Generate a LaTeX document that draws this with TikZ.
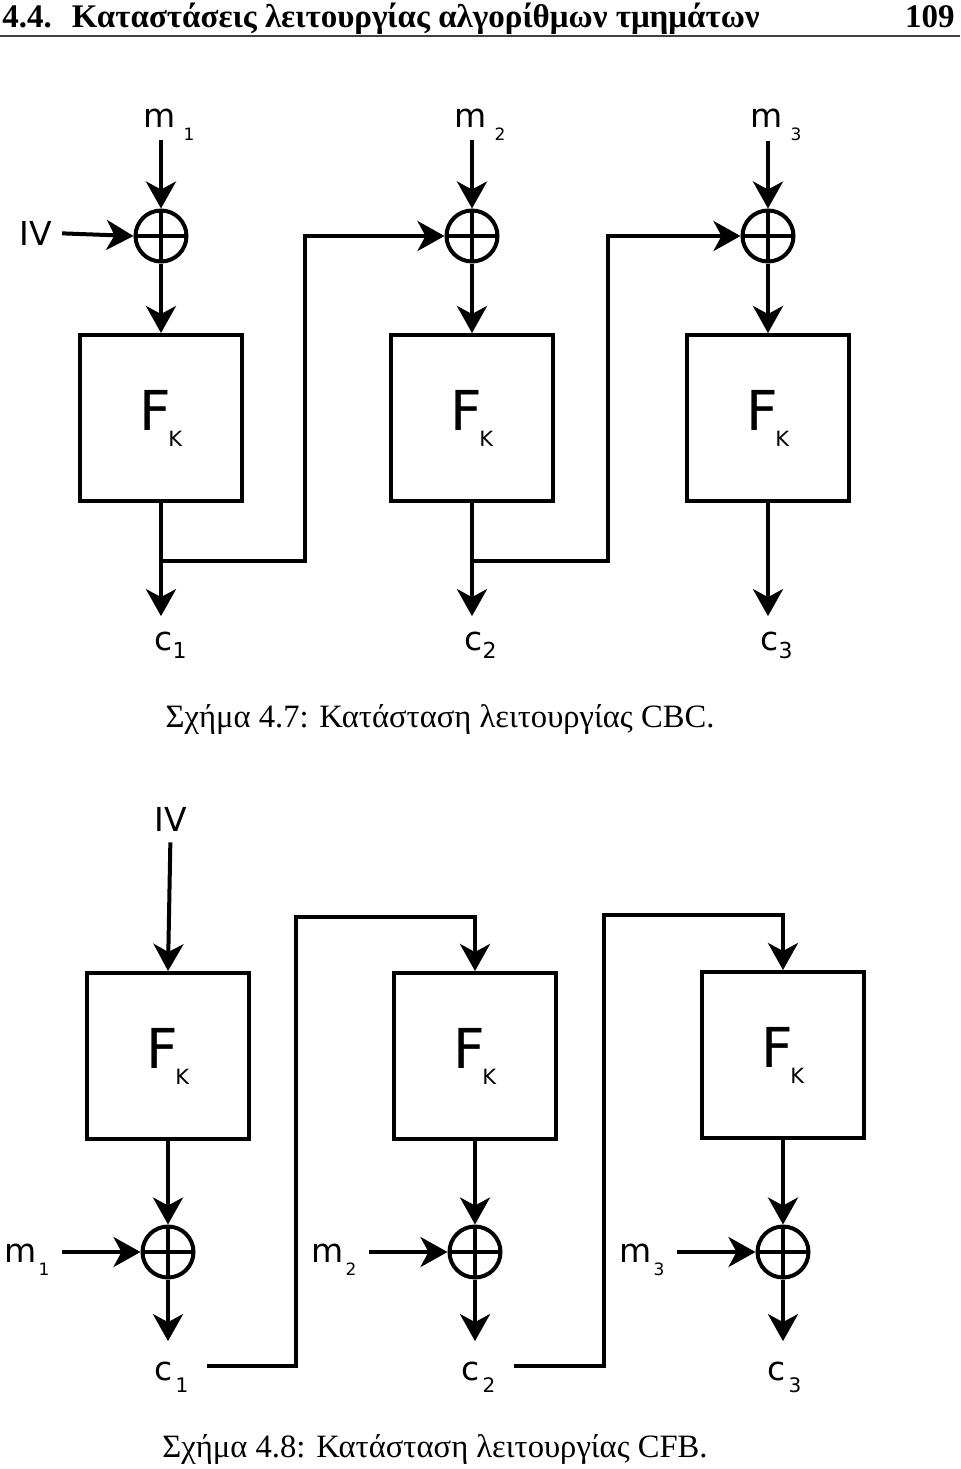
\documentclass[tikz,border=0pt]{standalone}
\usepackage{fontspec}
\setmainfont{Liberation Serif}
\setsansfont{DejaVu Sans}
\newfontfamily\headfont{Liberation Serif}
\usetikzlibrary{arrows.meta}
\tikzstyle{every node}=[inner sep=0pt]
\tikzstyle{arr}=[-{Stealth[length=13.5pt,width=15pt,inset=4pt]},line width=2pt]
\tikzstyle{fbox}=[draw,line width=2pt,minimum width=81pt,minimum height=83pt]
\tikzstyle{xor}=[draw,circle,line width=2pt,minimum size=25.5pt,path picture={\draw[line width=2pt] (path picture bounding box.north)--(path picture bounding box.south) (path picture bounding box.west)--(path picture bounding box.east);}]
\tikzstyle{lbl}=[font=\sffamily\fontsize{16.5}{18}\selectfont,anchor=base west]
\tikzstyle{figcap}=[font=\fontsize{16.3}{18}\selectfont,anchor=base]
\newcommand{\sublbl}[5]{#1\hspace{#3}\raisebox{-#4}{\fontsize{#5}{#5}\selectfont #2}}
\newcommand{\fk}{{\fontsize{27.5}{28}\selectfont F}\hspace{-1.5pt}\raisebox{-8pt}{\fontsize{10.5}{11}\selectfont K}}

\begin{document}
\begin{tikzpicture}[x=0.5pt,y=-0.5pt]
  \useasboundingbox (0,0) rectangle (960,1469);
  % page head
  \node(head)[anchor=base west] at (2,27){\headfont\bfseries\fontsize{16.5}{18}\selectfont 4.4.\hspace{10pt}Καταστάσεις λειτουργίας αλγορίθμων τμημάτων};
  \node(page)[anchor=base east] at (955,27){\headfont\bfseries\fontsize{16.5}{18}\selectfont 109};
  \draw[line width=0.8pt,black!75] (0,36) -- (960,36);

  % CBC
  \node(x1)[xor] at (161,236){};
  \node(x2)[xor] at (472,236){};
  \node(x3)[xor] at (768,236){};
  \node(b1)[fbox,font=\sffamily] at (161,418){\fk};
  \node(b2)[fbox,font=\sffamily] at (472,418){\fk};
  \node(b3)[fbox,font=\sffamily] at (768,418){\fk};
  \node(m1)[lbl] at (143,127){\sublbl{m}{1}{4pt}{6.5pt}{8.5pt}};
  \node(m2)[lbl] at (454,127){\sublbl{m}{2}{4pt}{6.5pt}{8.5pt}};
  \node(m3)[lbl] at (750,127){\sublbl{m}{3}{4pt}{6.5pt}{8.5pt}};
  \node(iv)[lbl] at (19,245){IV};
  \node(c1)[lbl] at (154,650){\sublbl{c}{1}{0pt}{4pt}{11pt}};
  \node(c2)[lbl] at (464,650){\sublbl{c}{2}{0pt}{4pt}{11pt}};
  \node(c3)[lbl] at (760,650){\sublbl{c}{3}{0pt}{4pt}{11pt}};
  \path (b1.south) ++(0,58) coordinate (tap1);
  \path (b2.south) ++(0,58) coordinate (tap2);
  \path[arr] (m1.south -| x1.north) edge (x1.north)
             (m2.south -| x2.north) edge (x2.north)
             (m3.south -| x3.north) edge (x3.north)
             (iv.east) edge[shorten <=5pt] (x1.west)
             (x1.south) edge (b1.north)
             (x2.south) edge (b2.north)
             (x3.south) edge (b3.north)
             (b1.south) edge[shorten >=7.5pt] (c1.north -| b1.south)
             (b2.south) edge[shorten >=7.5pt] (c2.north -| b2.south)
             (b3.south) edge[shorten >=7.5pt] (c3.north -| b3.south);
  \draw[arr] (tap1) -| (305,236) -- (x2.west);
  \draw[arr] (tap2) -| (608,236) -- (x3.west);
  \node(cap1)[figcap] at (440,727){Σχήμα 4.7: Κατάσταση λειτουργίας CBC.};

  % CFB
  \node(B1)[fbox,font=\sffamily] at (168,1056){\fk};
  \node(B2)[fbox,font=\sffamily] at (475,1056){\fk};
  \node(B3)[fbox,font=\sffamily] at (783,1055){\fk};
  \node(y1)[xor] at (168,1252){};
  \node(y2)[xor] at (475,1252){};
  \node(y3)[xor] at (783,1252){};
  \node(IV)[lbl] at (154,831){IV};
  \node(M1)[lbl] at (4,1262){\sublbl{m}{1}{1pt}{6.5pt}{8.5pt}};
  \node(M2)[lbl] at (311,1262){\sublbl{m}{2}{1pt}{6.5pt}{8.5pt}};
  \node(M3)[lbl] at (619,1262){\sublbl{m}{3}{1pt}{6.5pt}{8.5pt}};
  \node(C1)[lbl] at (154,1380){\sublbl{c}{1}{1.5pt}{6pt}{10pt}};
  \node(C2)[lbl] at (461,1380){\sublbl{c}{2}{1.5pt}{6pt}{10pt}};
  \node(C3)[lbl] at (767,1380){\sublbl{c}{3}{1.5pt}{6pt}{10pt}};
  \path[arr] (IV.south) edge[shorten <=5.5pt] (B1.north)
             (B1.south) edge (y1.north)
             (B2.south) edge (y2.north)
             (B3.south) edge (y3.north)
             (M1.east |- y1.west) edge[shorten <=6pt] (y1.west)
             (M2.east |- y2.west) edge[shorten <=6pt] (y2.west)
             (M3.east |- y3.west) edge[shorten <=6pt] (y3.west)
             (y1.south) edge[shorten >=10pt] (C1.north -| y1.south)
             (y2.south) edge[shorten >=10pt] (C2.north -| y2.south)
             (y3.south) edge[shorten >=10pt] (C3.north -| y3.south);
  \draw[arr,shorten <=9pt] ([yshift=5.5pt]C1.east) -| (296,917) -| (B2.north);
  \draw[arr,shorten <=9pt] ([yshift=5.5pt]C2.east) -| (604,915) -| (B3.north);
  \node(cap2)[figcap] at (435,1457){Σχήμα 4.8: Κατάσταση λειτουργίας CFB.};
\end{tikzpicture}
\end{document}
